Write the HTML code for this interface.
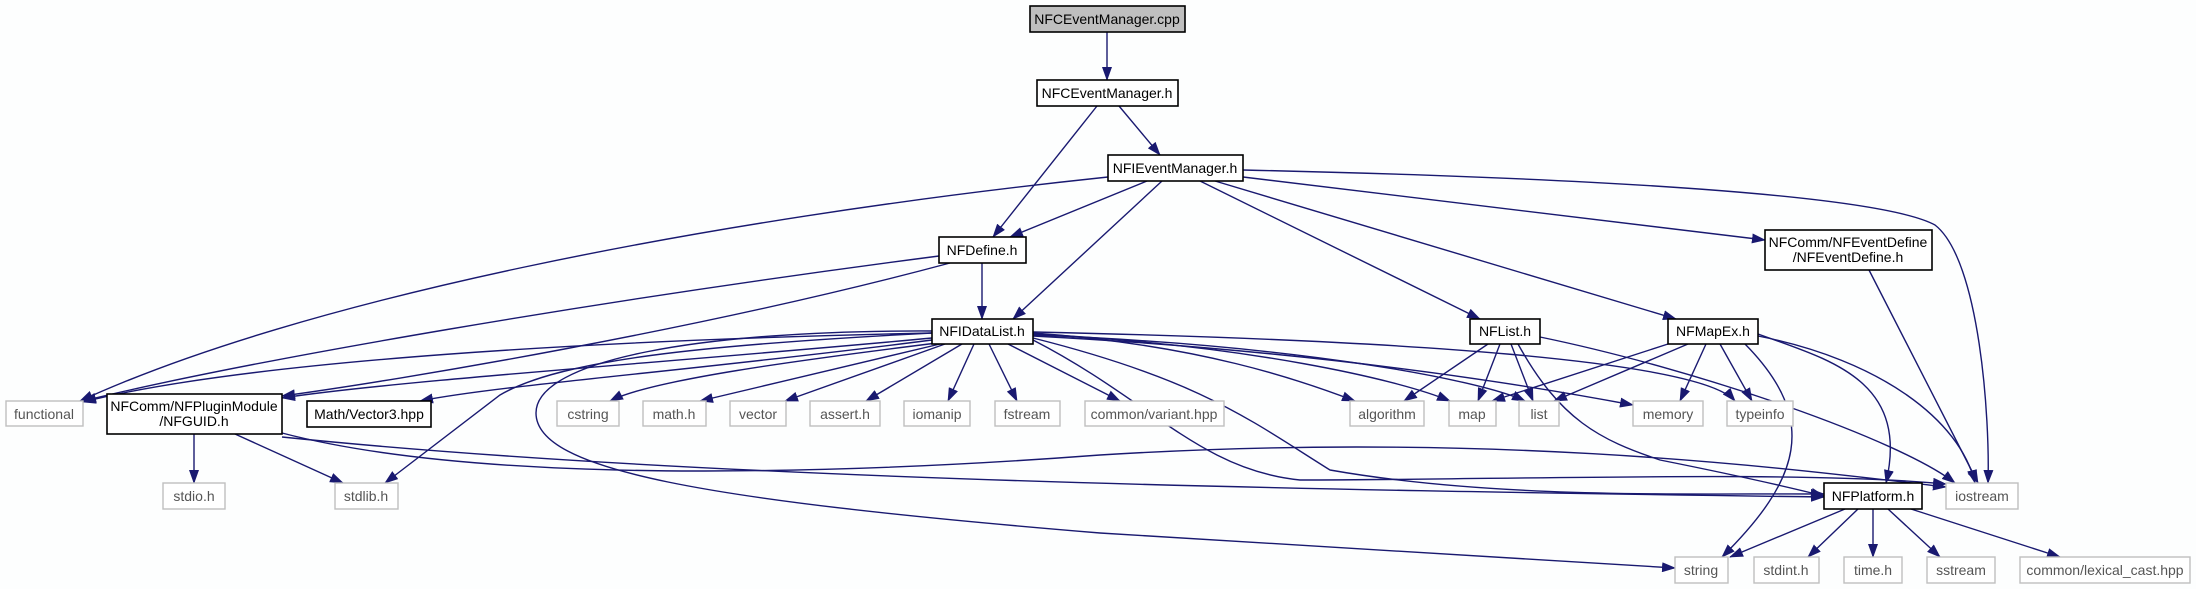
<!DOCTYPE html>
<html><head><meta charset="utf-8"><style>
html,body{margin:0;padding:0;background:#fdfefe;}
svg{display:block;}
text{font-family:"Liberation Sans",sans-serif;font-size:14px;text-anchor:middle;}
.e{fill:none;stroke:#191970;stroke-width:1.4;}
.n{fill:#fff;stroke:#000;stroke-width:1.6;}
.g{fill:#fff;stroke:#bfbfbf;stroke-width:1.4;}
.gt{fill:#555;}
</style></head><body>
<svg width="2196" height="589" viewBox="0 0 2196 589" xmlns="http://www.w3.org/2000/svg">
<defs><marker id="a" markerUnits="userSpaceOnUse" markerWidth="14" markerHeight="10" refX="13" refY="5" orient="auto"><path d="M0,0 L14,5 L0,10 z" fill="#191970"/></marker></defs>
<g class="e" marker-end="url(#a)">
<path d="M1107,32 L1107,80"/>
<path d="M1119,106 L1160,155"/>
<path d="M1097,106 L993,237"/>
<path d="M1147,181 L1010,237"/>
<path d="M1162,181 L1013,319"/>
<path d="M1200,181 L1480,319"/>
<path d="M1215,181 L1676,319"/>
<path d="M1243,177 L1765,240"/>
<path d="M1243,170 C1600,178 1880,195 1935,225 C1980,260 1990,420 1988,483"/>
<path d="M1108,177 C700,220 300,300 80,401"/>
<path d="M1869,270 L1978,483"/>
<path d="M982,263 L982,319"/>
<path d="M939,256 C600,300 250,360 83,401"/>
<path d="M950,263 C700,330 400,380 282,396"/>
<path d="M932,333 C600,340 250,360 83,402"/>
<path d="M932,338 C700,360 400,380 282,398"/>
<path d="M932,340 C700,370 500,385 420,401"/>
<path d="M932,333 C700,345 560,360 500,395 L385,483"/>
<path d="M937,343 C800,360 650,380 610,401"/>
<path d="M940,344 L700,401"/>
<path d="M945,344 L785,401"/>
<path d="M962,344 L866,401"/>
<path d="M974,344 L948,401"/>
<path d="M989,344 L1017,401"/>
<path d="M1008,344 L1120,401"/>
<path d="M1033,333 C1200,345 1300,380 1355,401"/>
<path d="M1033,334 C1250,345 1400,380 1450,401"/>
<path d="M1033,335 C1300,345 1480,380 1525,401"/>
<path d="M1033,336 C1300,350 1500,380 1633,405"/>
<path d="M1033,332 C1400,340 1700,360 1735,401"/>
<path d="M1033,338 C1200,380 1250,420 1330,470 C1500,500 1700,493 1824,494"/>
<path d="M1033,340 C1150,400 1200,470 1300,480 C1500,480 1800,470 1946,484"/>
<path d="M932,331 C700,330 536,360 536,413 C536,470 700,500 1100,533 L1675,568"/>
<path d="M194,434 L194,483"/>
<path d="M235,434 L343,483"/>
<path d="M282,437 C700,480 1300,490 1824,497"/>
<path d="M282,433 C500,490 900,470 1100,455 C1500,430 1800,470 1946,487"/>
<path d="M1488,344 L1404,401"/>
<path d="M1500,344 L1478,401"/>
<path d="M1511,344 L1533,401"/>
<path d="M1518,344 C1560,420 1600,440 1660,460 C1760,480 1800,490 1824,496"/>
<path d="M1540,337 C1700,370 1900,440 1955,483"/>
<path d="M1668,344 L1492,401"/>
<path d="M1688,344 L1554,401"/>
<path d="M1706,344 L1680,401"/>
<path d="M1720,344 L1752,401"/>
<path d="M1745,344 C1820,420 1800,480 1722,557"/>
<path d="M1758,334 C1830,360 1910,380 1886,483"/>
<path d="M1758,336 C1880,360 1960,420 1975,483"/>
<path d="M1845,509 L1730,557"/>
<path d="M1858,509 L1808,557"/>
<path d="M1873,509 L1873,557"/>
<path d="M1888,509 L1940,557"/>
<path d="M1911,509 L2060,557"/>
</g>
<rect x="1030" y="6" width="155" height="26" fill="#bfbfbf" stroke="#000" stroke-width="1.6"/><text x="1107" y="24">NFCEventManager.cpp</text>
<rect class="n" x="1037" y="80" width="141" height="26"/><text x="1107" y="98">NFCEventManager.h</text>
<rect class="n" x="1108" y="155" width="135" height="26"/><text x="1175" y="173">NFIEventManager.h</text>
<rect class="n" x="1765" y="230" width="167" height="40"/><text x="1848" y="247">NFComm/NFEventDefine</text><text x="1848" y="262">/NFEventDefine.h</text>
<rect class="n" x="939" y="237" width="87" height="26"/><text x="982" y="255">NFDefine.h</text>
<rect class="n" x="932" y="319" width="101" height="25"/><text x="982" y="336">NFIDataList.h</text>
<rect class="n" x="1470" y="319" width="70" height="25"/><text x="1505" y="336">NFList.h</text>
<rect class="n" x="1668" y="319" width="90" height="25"/><text x="1713" y="336">NFMapEx.h</text>
<rect class="n" x="107" y="394" width="175" height="40"/><text x="194" y="411">NFComm/NFPluginModule</text><text x="194" y="426">/NFGUID.h</text>
<rect class="n" x="307" y="401" width="124" height="26"/><text x="369" y="419">Math/Vector3.hpp</text>
<rect class="n" x="1824" y="483" width="98" height="26"/><text x="1873" y="501">NFPlatform.h</text>
<g class="gt">
<rect class="g" x="6" y="401" width="77" height="25"/><text x="44" y="419">functional</text>
<rect class="g" x="557" y="401" width="62" height="25"/><text x="588" y="419">cstring</text>
<rect class="g" x="643" y="401" width="63" height="25"/><text x="674" y="419">math.h</text>
<rect class="g" x="730" y="401" width="56" height="25"/><text x="758" y="419">vector</text>
<rect class="g" x="810" y="401" width="70" height="25"/><text x="845" y="419">assert.h</text>
<rect class="g" x="904" y="401" width="66" height="25"/><text x="937" y="419">iomanip</text>
<rect class="g" x="995" y="401" width="65" height="25"/><text x="1027" y="419">fstream</text>
<rect class="g" x="1085" y="401" width="139" height="25"/><text x="1154" y="419">common/variant.hpp</text>
<rect class="g" x="1350" y="401" width="74" height="25"/><text x="1387" y="419">algorithm</text>
<rect class="g" x="1449" y="401" width="47" height="25"/><text x="1472" y="419">map</text>
<rect class="g" x="1519" y="401" width="40" height="25"/><text x="1539" y="419">list</text>
<rect class="g" x="1633" y="401" width="70" height="25"/><text x="1668" y="419">memory</text>
<rect class="g" x="1727" y="401" width="66" height="25"/><text x="1760" y="419">typeinfo</text>
<rect class="g" x="1946" y="483" width="72" height="26"/><text x="1982" y="501">iostream</text>
<rect class="g" x="163" y="483" width="62" height="26"/><text x="194" y="501">stdio.h</text>
<rect class="g" x="335" y="483" width="63" height="26"/><text x="366" y="501">stdlib.h</text>
<rect class="g" x="1675" y="557" width="53" height="26"/><text x="1701" y="575">string</text>
<rect class="g" x="1754" y="557" width="65" height="26"/><text x="1786" y="575">stdint.h</text>
<rect class="g" x="1844" y="557" width="58" height="26"/><text x="1873" y="575">time.h</text>
<rect class="g" x="1927" y="557" width="68" height="26"/><text x="1961" y="575">sstream</text>
<rect class="g" x="2020" y="557" width="170" height="26"/><text x="2105" y="575">common/lexical_cast.hpp</text>
</g>
</svg>
</body></html>
